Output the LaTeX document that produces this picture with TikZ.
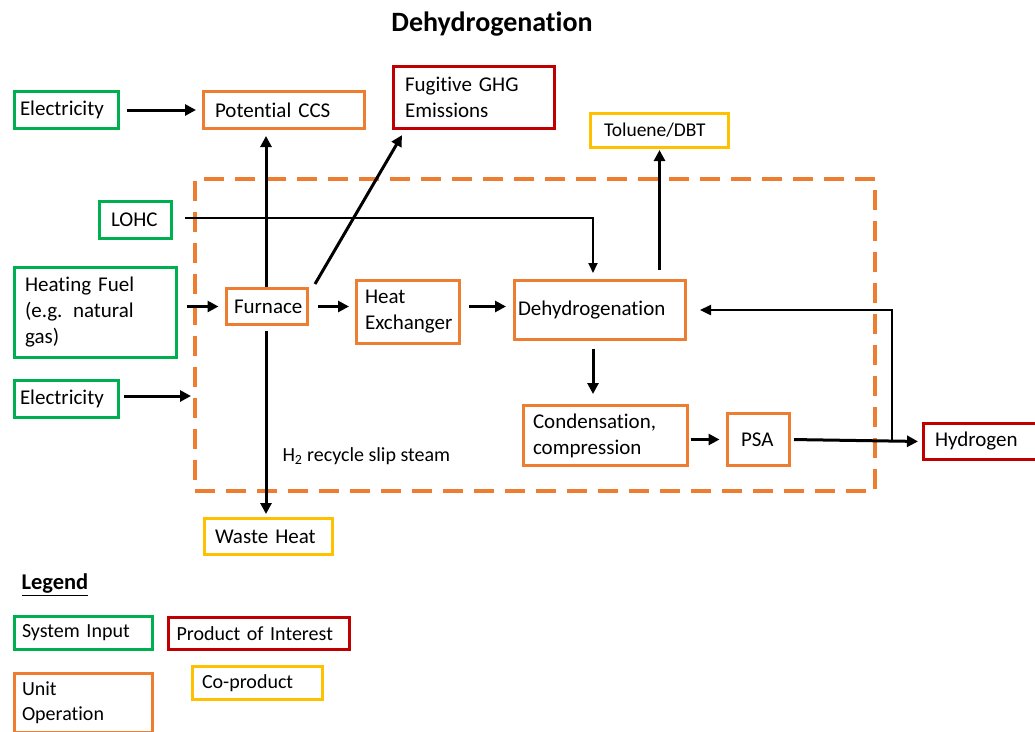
\documentclass[tikz,border=0pt]{standalone}
\usepackage{fontspec}
\setmainfont{Carlito}[Ligatures=NoCommon]
\usetikzlibrary{arrows.meta,calc}
\definecolor{inputgreen}{HTML}{00B050}
\definecolor{unitorange}{HTML}{ED7D31}
\definecolor{productred}{HTML}{C00000}
\definecolor{coyellow}{HTML}{FFC000}

\begin{document}
\begin{tikzpicture}[x=1pt,y=-1pt,
  box/.style={draw, line width=3pt, fill=white, inner ysep=0pt,
    font=\fontsize{21}{26}\selectfont, align=left},
  % #1 text width, #2 left/right padding, #3 height
  geom/.style n args={3}{text width=#1pt, inner xsep=#2pt, minimum height=#3pt},
  inputbox/.style={box, draw=inputgreen},
  unitbox/.style={box, draw=unitorange},
  prodbox/.style={box, draw=productred},
  cobox/.style={box, draw=coyellow},
  flow/.style={line width=3pt, -{Triangle[length=11pt,width=11pt]}},
  thinflow/.style={line width=1.8pt, -{Triangle[length=10pt,width=9pt]}},
  recycle/.style={line width=2.4pt, -{Triangle[length=11pt,width=10pt]}},
  boundary/.style={draw=unitorange, line width=4pt, dash pattern=on 20pt off 11pt,
    inner sep=0pt}
]
\useasboundingbox (0,0) rectangle (1035,731);

% title
\node[font=\fontsize{28}{32}\selectfont\bfseries] (title) at (492,24) {Dehydrogenation};

% system boundary
\node[boundary, minimum width=680pt, minimum height=312pt] (sysbound) at (535,335) {};

% inputs, unit operations and outputs
\node[inputbox, geom={93}{5.5}{37}]  (elec1)   at (66.5,110)  {Electricity};
\node[unitbox,  geom={138}{11.5}{37}] (ccs)    at (284,110)   {Potential CCS};
\node[prodbox,  geom={138}{11.5}{62}] (ghg)    at (474,97.5)  {Fugitive GHG\\Emissions};
\node[cobox,    geom={111}{13.5}{34}, font=\fontsize{19.5}{23}\selectfont] (tol) at (659.5,130.5) {Toluene/DBT};
\node[inputbox, geom={49}{11.5}{37}]  (lohc)   at (135.5,220) {LOHC};
\node[inputbox, geom={141}{10.5}{90}] (fuel)   at (95.5,312.5) {Heating Fuel\\(e.g. natural\\gas)};
\node[inputbox, geom={93}{5.5}{37}]  (elec2)   at (66.5,399)  {Electricity};
\node[unitbox,  geom={66}{7.5}{36}]   (furnace) at (267,306.5) {Furnace};
\node[unitbox,  geom={86}{8.5}{63}]   (hx)     at (408,312)   {Heat\\Exchanger};
\node[unitbox,  geom={164}{3.5}{59}]  (dehy)   at (600,310)   {Dehydrogenation};
\node[unitbox,  geom={145}{9.5}{60}]  (cond)   at (605.5,435.5) {Condensation,\\compression};
\node[unitbox,  geom={35}{13.5}{52}]  (psa)    at (758.5,439.5) {PSA};
\node[prodbox,  geom={95}{11.5}{36}]  (h2)     at (982.5,441.5) {Hydrogen};
\node[cobox,    geom={107}{10.5}{36}] (waste)  at (268.5,536.5) {Waste Heat};

\node[anchor=west, font=\fontsize{20}{24}\selectfont] (slip) at (279,456) {H\textsubscript{2} recycle slip steam};

% legend
\node[anchor=west, font=\fontsize{22.5}{26}\selectfont\bfseries] (legend) at (18,585) {\underline{Legend}};
\begin{scope}[box/.append style={font=\fontsize{20}{25}\selectfont}]
\node[inputbox, geom={123}{7.5}{33}]  (sysin)  at (83.5,633)   {System Input};
\node[prodbox,  geom={164}{8.5}{32}]  (poi)    at (258.5,633.5) {Product of Interest};
\node[unitbox,  geom={123}{7.5}{59.5}] (unitop) at (83.5,703)  {Unit\\Operation};
\node[cobox,    geom={111}{9.5}{33}]  (coprod) at (257.5,683)  {Co-product};
\end{scope}

% flows
\draw[flow, shorten <=6.5pt, shorten >=6pt] (elec1) -- (ccs);
\draw[flow, shorten >=6pt] ([xshift=-1pt]furnace.north) -- ([xshift=-1pt]furnace.north |- ccs.south);
\draw[flow, shorten >=6pt] ([xshift=6pt,yshift=3pt]furnace.north east) -- ([xshift=13pt]ghg.south west);
\draw[thinflow, shorten >=6pt] ([xshift=12pt,yshift=2pt]lohc.east) -| ([xshift=-7pt]dehy.north);
\draw[flow, shorten <=8.5pt, shorten >=6.5pt] (fuel.east |- furnace.west) -- (furnace.west);
\draw[flow, shorten <=3.5pt, shorten >=2pt] ([yshift=3pt]elec2.east) -- ([yshift=3pt]elec2.east -| sysbound.west);
\draw[flow, shorten <=9pt, shorten >=6pt] (furnace.east) -- (furnace.east -| hx.west);
\draw[flow, shorten <=8pt, shorten >=7pt] (hx.east |- furnace.east) -- (dehy.west |- furnace.east);
\draw[flow, shorten <=9.5pt, shorten >=1pt] (dehy.north -| tol.south) -- (tol.south);
\draw[flow, shorten <=7.5pt, shorten >=10pt] ([xshift=-7pt]dehy.south) -- ([xshift=-7pt]dehy.south |- cond.north);
\draw[flow, shorten <=1.5pt, shorten >=6.5pt] (cond.east |- psa.west) -- (psa.west);
\draw[flow, shorten <=3pt, shorten >=4pt] (psa.east) -- (h2.west);
\coordinate (split) at ($(psa.east)!0.772!(h2.west)$);
\draw[recycle, shorten >=13pt] (split) |- (dehy.east);
\draw[flow, shorten <=5pt, shorten >=3pt] ([xshift=-1pt]furnace.south) -- ([xshift=-1pt]furnace.south |- waste.north);

\end{tikzpicture}
\end{document}
